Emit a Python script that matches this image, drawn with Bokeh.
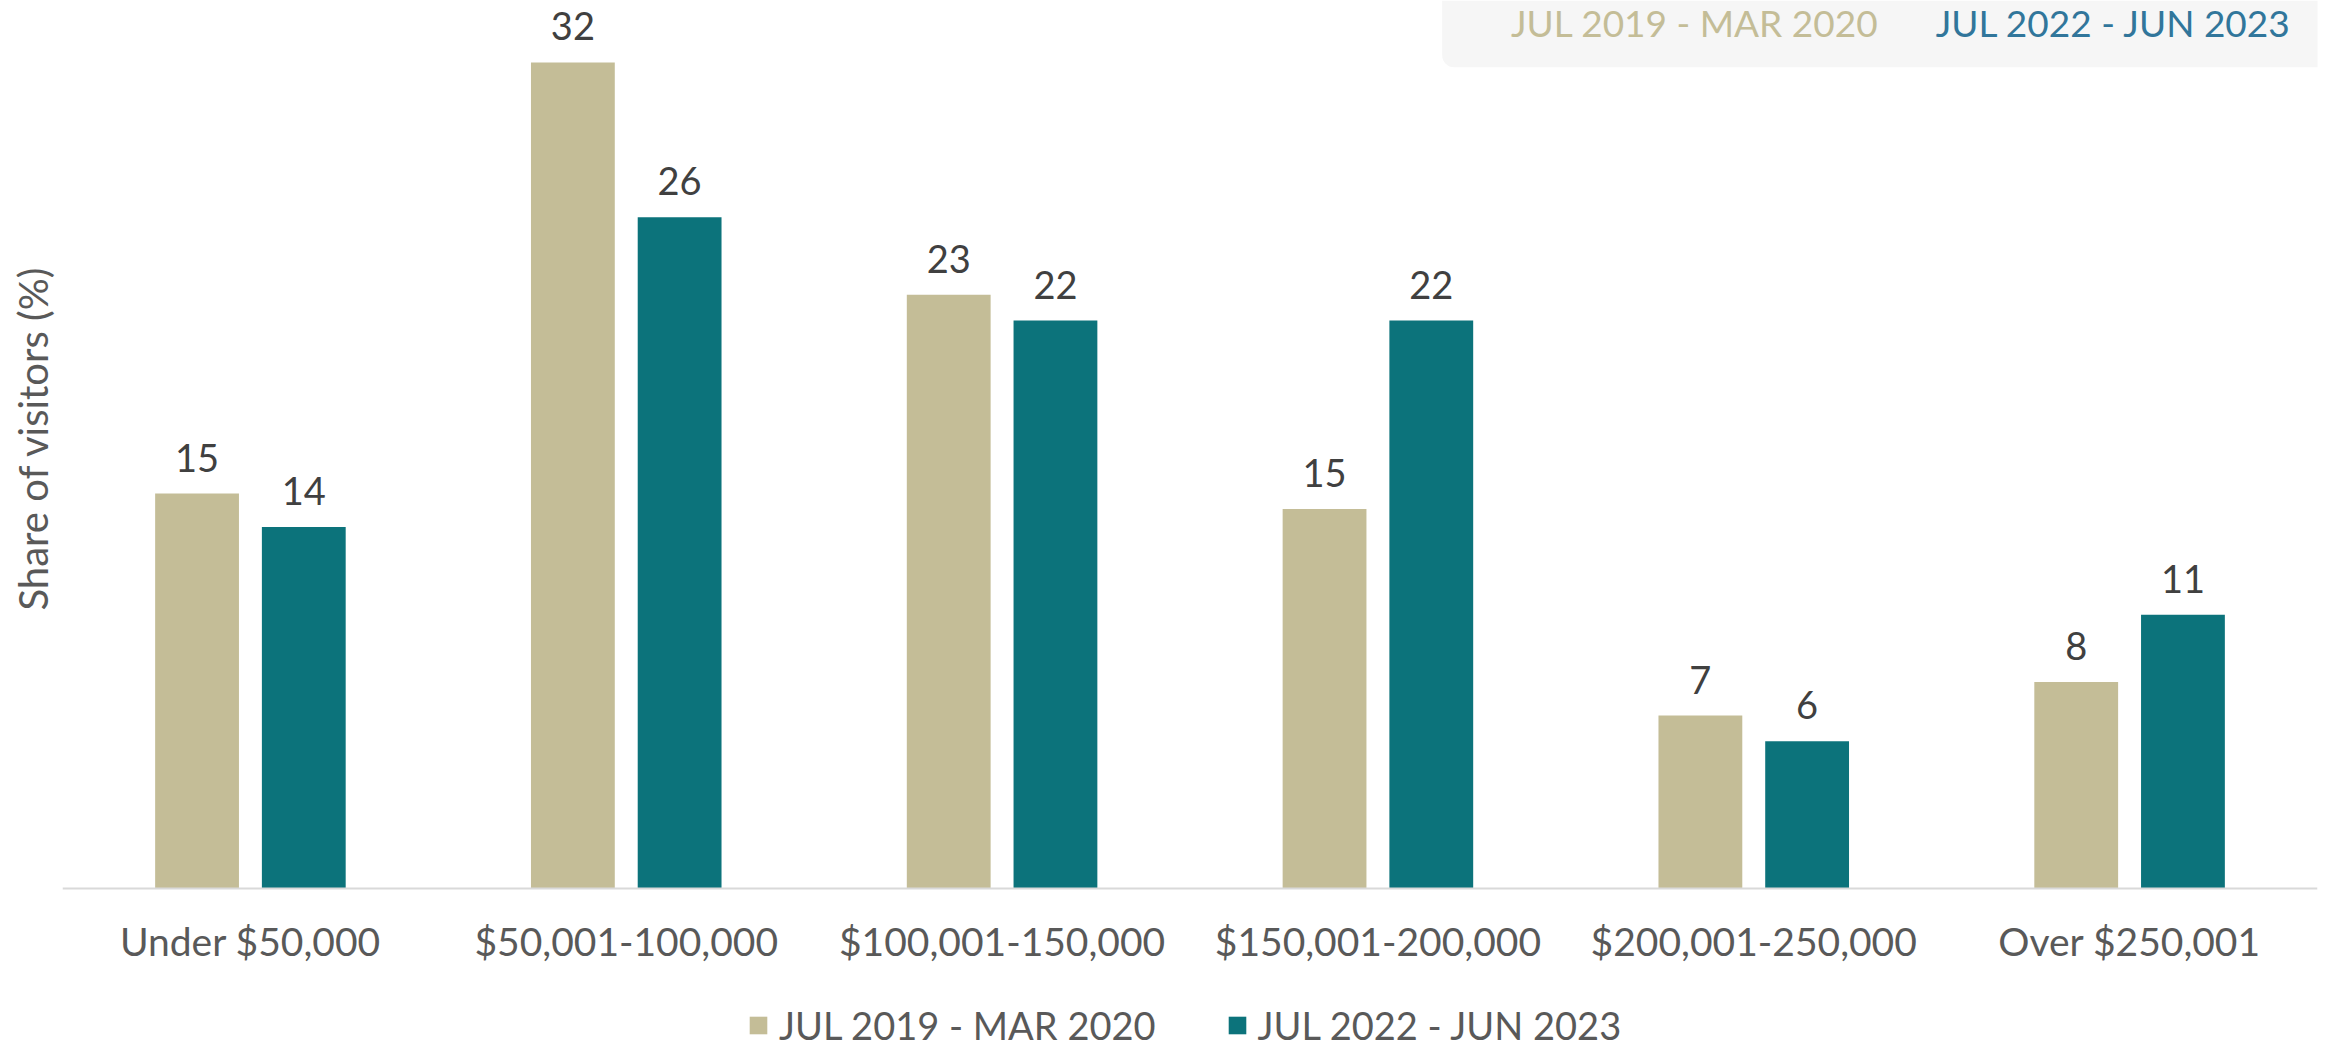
from bokeh.plotting import figure
from bokeh.models import (ColumnDataSource, Legend, LegendItem, Label,
                          BoxAnnotation, Range1d, Title)
from bokeh.transform import dodge
from bokeh.core.properties import value
from bokeh.embed import file_html
from bokeh.resources import INLINE

# ---- data ----
categories = ["Under $50,000", "$50,001-100,000", "$100,001-150,000",
              "$150,001-200,000", "$200,001-250,000", "Over $250,001"]
series_names = ["JUL 2019 - MAR 2020", "JUL 2022 - JUN 2023"]
share_2019 = [15.3, 32.0, 23.0, 14.7, 6.7, 8.0]
share_2022 = [14.0, 26.0, 22.0, 22.0, 5.7, 10.6]
y_axis_title = "Share of visitors (%)"

TAN = "#C4BD97"
TEAL = "#0C737B"
BLUE = "#31769B"
FONT = "Lato"

src = ColumnDataSource(dict(
    cat=categories,
    a=share_2019,
    b=share_2022,
    la=[f"{v:.0f}" for v in share_2019],
    lb=[f"{v:.0f}" for v in share_2022],
))

p = figure(x_range=categories, width=2325, height=1048,
           output_backend="svg", toolbar_location=None,
           min_border_left=60, min_border_right=8, min_border_top=0,
           min_border_bottom=0)
p.y_range = Range1d(-6.20, 34.40)
p.outline_line_color = None
p.xgrid.grid_line_color = None
p.ygrid.grid_line_color = None
p.yaxis.visible = False
p.background_fill_color = "white"
p.border_fill_color = "white"

off = 0.142
bw = 0.223
r1 = p.vbar(x=dodge("cat", -off, range=p.x_range), top="a", bottom=0, width=bw,
            source=src, fill_color=TAN, line_color=None)
r2 = p.vbar(x=dodge("cat", off, range=p.x_range), top="b", bottom=0, width=bw,
            source=src, fill_color=TEAL, line_color=None)

for col, lab, o in (("a", "la", -off), ("b", "lb", off)):
    p.text(x=dodge("cat", o, range=p.x_range), y=col, text=lab, source=src,
           text_align="center", text_baseline="alphabetic", y_offset=-36,
           text_font=value(FONT), text_font_size="38px", text_color="#404040")

xa = p.xaxis[0]
xa.fixed_location = 0
xa.axis_line_color = "#D9D9D9"
xa.axis_line_width = 2
xa.major_tick_line_color = None
xa.minor_tick_line_color = None
xa.major_label_text_font = FONT
xa.major_label_text_font_size = "39px"
xa.major_label_text_color = "#595959"
xa.major_label_standoff = 24

# y-axis title in the left panel
p.add_layout(Title(text=y_axis_title, align="left", offset=438, standoff=12,
                   text_font=FONT, text_font_size="40px",
                   text_font_style="normal", text_color="#595959"), "left")

# top-right header box
p.add_layout(BoxAnnotation(left=3.671, right=6.03, bottom=31.81,
                           fill_color="#F6F6F6", fill_alpha=1.0, line_color=None,
                           border_radius=(0, 0, 0, 12), level="underlay"))
p.add_layout(Label(x=3.854, y=33.55, text=series_names[0], text_align="left",
                   text_baseline="middle", text_font=FONT,
                   text_font_size="37px", text_color=TAN))
p.add_layout(Label(x=4.984, y=33.55, text=series_names[1], text_align="left",
                   text_baseline="middle", text_font=FONT,
                   text_font_size="37px", text_color=BLUE))

legend = Legend(items=[LegendItem(label=series_names[0], renderers=[r1]),
                       LegendItem(label=series_names[1], renderers=[r2])],
                orientation="horizontal", location=(685, 0),
                label_text_font=FONT, label_text_font_size="38px",
                label_text_color="#595959", glyph_width=22, glyph_height=22,
                label_standoff=10, spacing=70, padding=0, margin=0,
                border_line_color=None, background_fill_alpha=0)
p.add_layout(legend, "center")

open("out.html", "w").write(file_html(p, INLINE))
